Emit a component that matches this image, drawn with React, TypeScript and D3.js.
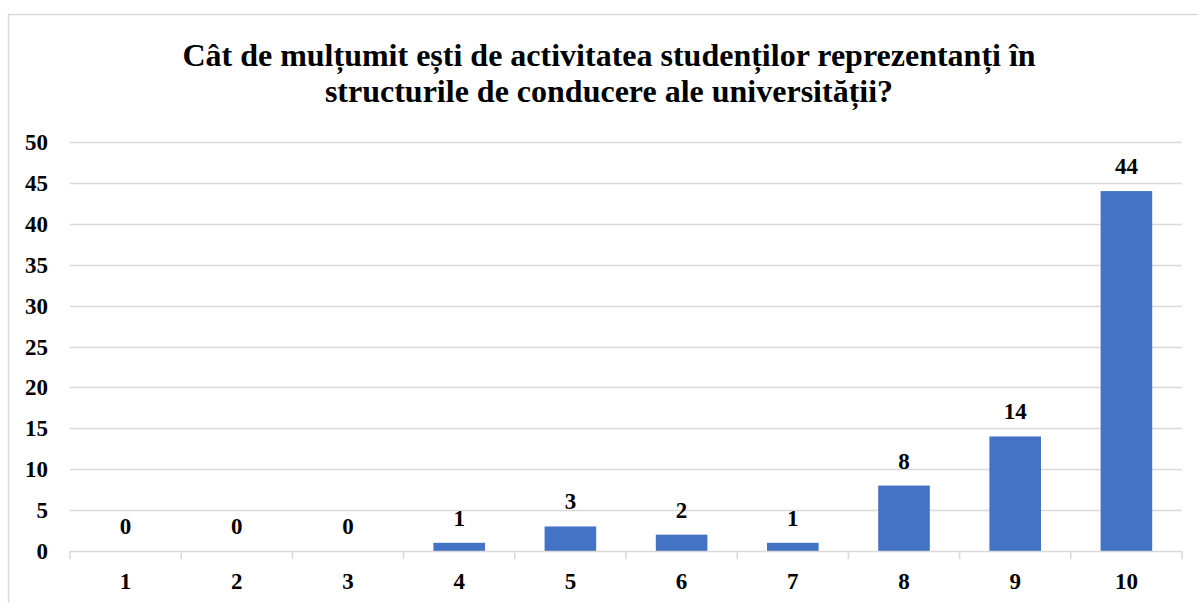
import React from "react";
import * as d3 from "d3";

const categories = ["1", "2", "3", "4", "5", "6", "7", "8", "9", "10"];
const values = [0, 0, 0, 1, 3, 2, 1, 8, 14, 44];
const yTicks = [0, 5, 10, 15, 20, 25, 30, 35, 40, 45, 50];
const titleLines = [
  "Cât de mulțumit ești de activitatea studenților reprezentanți în",
  "structurile de conducere ale universității?",
];

const W = 1198;
const H = 603;
const left = 70;
const right = 1182;
const top = 142;
const bottom = 551;
const font = "'Liberation Serif', 'Times New Roman', serif";
const grid = "#d9d9d9";
const barColor = "#4472C4";

export default function App() {
  const x = d3.scaleBand<string>().domain(categories).range([left, right]).padding(0);
  const y = d3.scaleLinear().domain([0, 50]).range([bottom, top]);
  const bw = x.bandwidth() * 0.464;

  return (
    <svg
      width={W}
      height={H}
      style={{ position: "absolute", left: 0, top: 0, background: "#fff" }}
      fontFamily={font}
    >
      <rect x={8.5} y={14.5} width={1210} height={620} fill="#fff" stroke={grid} strokeWidth={1.5} />
      {titleLines.map((t, i) => (
        <text
          key={i}
          x={609}
          y={66 + i * 36}
          textAnchor="middle"
          fontSize={32}
          fontWeight="bold"
          fill="#000"
        >
          {t}
        </text>
      ))}
      {yTicks.map((t) => (
        <g key={t}>
          {t > 0 && (
            <line x1={left} x2={right} y1={Math.round(y(t)) + 0.5} y2={Math.round(y(t)) + 0.5} stroke={grid} strokeWidth={1.3} />
          )}
          <text x={48} y={y(t)} dy="0.35em" textAnchor="end" fontSize={23} fontWeight="bold" fill="#000">
            {t}
          </text>
        </g>
      ))}
      {categories.map((c, i) => {
        const cx = (x(c) as number) + x.bandwidth() / 2;
        const v = values[i];
        return (
          <g key={c}>
            <rect x={cx - bw / 2} y={y(v)} width={bw} height={bottom - y(v)} fill={barColor} />
            <text x={cx} y={y(v) - 17} textAnchor="middle" fontSize={23} fontWeight="bold" fill="#000">
              {v}
            </text>
            <text x={cx} y={589} textAnchor="middle" fontSize={23} fontWeight="bold" fill="#000">
              {c}
            </text>
          </g>
        );
      })}
      <line x1={left} x2={right} y1={bottom + 0.5} y2={bottom + 0.5} stroke={grid} strokeWidth={1.5} />
      {[...categories.map((c) => x(c) as number), right].map((tx, i) => (
        <line key={i} x1={tx} x2={tx} y1={bottom} y2={bottom + 8} stroke={grid} strokeWidth={1.5} />
      ))}
    </svg>
  );
}
